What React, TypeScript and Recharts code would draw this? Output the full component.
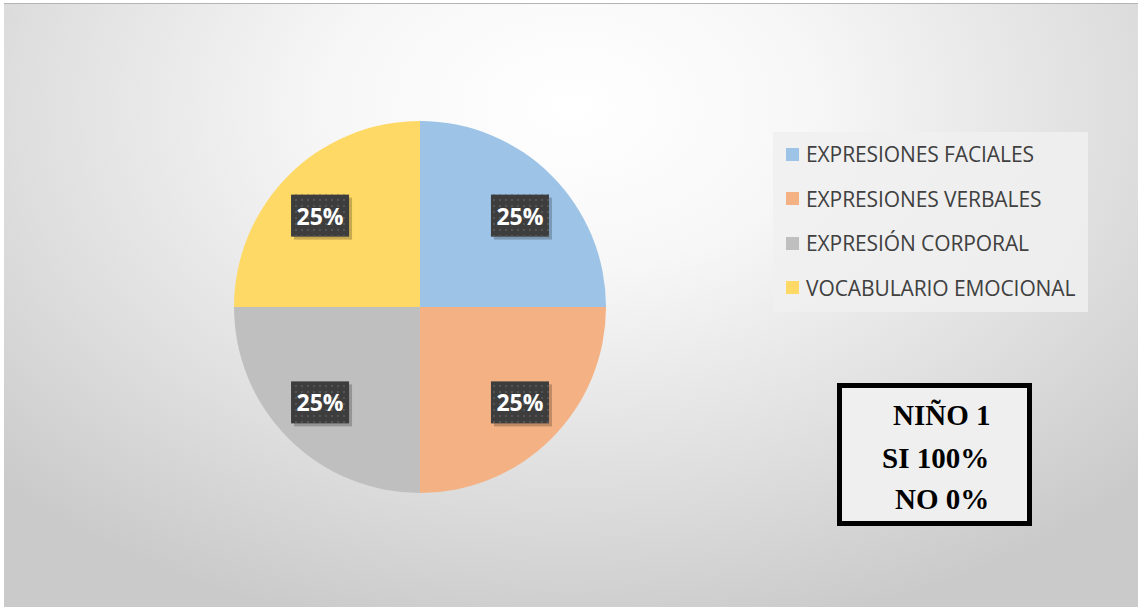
import React from "react";
import { PieChart, Pie, Cell, Legend } from "recharts";

const categories = [
  "EXPRESIONES FACIALES",
  "EXPRESIONES VERBALES",
  "EXPRESIÓN CORPORAL",
  "VOCABULARIO EMOCIONAL",
];
const values = [25, 25, 25, 25];
const colors = ["#9DC3E6", "#F4B183", "#BFBFBF", "#FFD966"];
const noteLines = ["NIÑO 1", "SI 100%", "NO 0%"];

const data = categories.map((name, i) => ({ name, value: values[i] }));

const RADIAN = Math.PI / 180;

const renderLabel = (props: any) => {
  const { cx, cy, midAngle, outerRadius, percent } = props;
  const x = cx + outerRadius * 0.76 * Math.cos(-midAngle * RADIAN);
  const y = cy + outerRadius * 0.71 * Math.sin(-midAngle * RADIAN) + 2;
  const w = 58;
  const h = 42;
  return (
    <g>
      <rect x={x - w / 2 + 3} y={y - h / 2 + 3} width={w} height={h} fill="#000" opacity={0.22} />
      <rect x={x - w / 2} y={y - h / 2} width={w} height={h} fill="#3d3d3d" />
      <rect x={x - w / 2} y={y - h / 2} width={w} height={h} fill="url(#dots)" />
      <text
        x={x}
        y={y}
        fill="#ffffff"
        textAnchor="middle"
        dominantBaseline="central"
        fontFamily="'Open Sans', sans-serif"
        fontWeight={700}
        fontSize={23}
      >
        {`${Math.round(percent * 100)}%`}
      </text>
    </g>
  );
};

const LegendContent = (props: any) => {
  const { payload } = props;
  return (
    <div
      style={{
        width: 315,
        height: 180,
        background: "rgba(240,240,240,0.85)",
        boxSizing: "border-box",
        paddingTop: 0,
      }}
    >
      {(payload || []).map((p: any, i: number) => (
        <div
          key={i}
          style={{
            display: "flex",
            alignItems: "center",
            height: 44.5,
            paddingLeft: 13,
          }}
        >
          <span
            style={{
              display: "inline-block",
              width: 13,
              height: 13,
              background: p.color,
              marginRight: 7,
              flexShrink: 0,
            }}
          />
          <span
            style={{
              fontFamily: "'Open Sans', sans-serif",
              fontSize: 21,
              color: "#404040",
              whiteSpace: "nowrap",
              letterSpacing: -0.1,
            }}
          >
            {p.value}
          </span>
        </div>
      ))}
    </div>
  );
};

export default function App() {
  return (
    <div
      style={{
        position: "absolute",
        left: 0,
        top: 0,
        width: 1138,
        height: 607,
        background: "#ffffff",
        overflow: "hidden",
      }}
    >
      <div
        style={{
          position: "absolute",
          left: 4,
          top: 3,
          width: 1134,
          height: 604,
          borderTop: "1px solid #b4b4b4",
          boxSizing: "border-box",
          background:
            "radial-gradient(ellipse 70% 90% at 50% 17%, #ffffff 0%, #f7f7f7 30%, #dedede 70%, #cacaca 100%)",
        }}
      />
      <div style={{ position: "absolute", left: 0, top: 0 }}>
        <PieChart width={1138} height={607} margin={{ top: 0, right: 0, bottom: 0, left: 0 }}>
          <defs>
            <pattern id="dots" width="6" height="6" patternUnits="userSpaceOnUse">
              <rect x="1" y="1" width="2" height="2" fill="#545454" />
            </pattern>
          </defs>
          <Pie
            data={data}
            dataKey="value"
            nameKey="name"
            cx={420}
            cy={307}
            outerRadius={186}
            startAngle={90}
            endAngle={-270}
            stroke="none"
            label={renderLabel}
            labelLine={false}
            isAnimationActive={false}
          >
            {data.map((d, i) => (
              <Cell key={d.name} fill={colors[i]} />
            ))}
          </Pie>
          <Legend
            content={<LegendContent />}
            layout="vertical"
            wrapperStyle={{ position: "absolute", left: 773, top: 132, width: 315, height: 180 }}
          />
        </PieChart>
      </div>
      <div
        style={{
          position: "absolute",
          left: 837,
          top: 383,
          width: 195,
          height: 143,
          border: "5px solid #000",
          boxSizing: "border-box",
          background: "#efefef",
          fontFamily: "'Liberation Serif', 'Times New Roman', serif",
          fontWeight: 700,
          fontSize: 29,
          color: "#000",
        }}
      >
        <div style={{ position: "absolute", left: 51, top: 13, whiteSpace: "nowrap", lineHeight: "29px" }}>
          {noteLines[0]}
        </div>
        <div style={{ position: "absolute", left: 40, top: 56, whiteSpace: "nowrap", lineHeight: "29px" }}>
          {noteLines[1]}
        </div>
        <div style={{ position: "absolute", left: 53, top: 97, whiteSpace: "nowrap", lineHeight: "29px" }}>
          {noteLines[2]}
        </div>
      </div>
    </div>
  );
}
